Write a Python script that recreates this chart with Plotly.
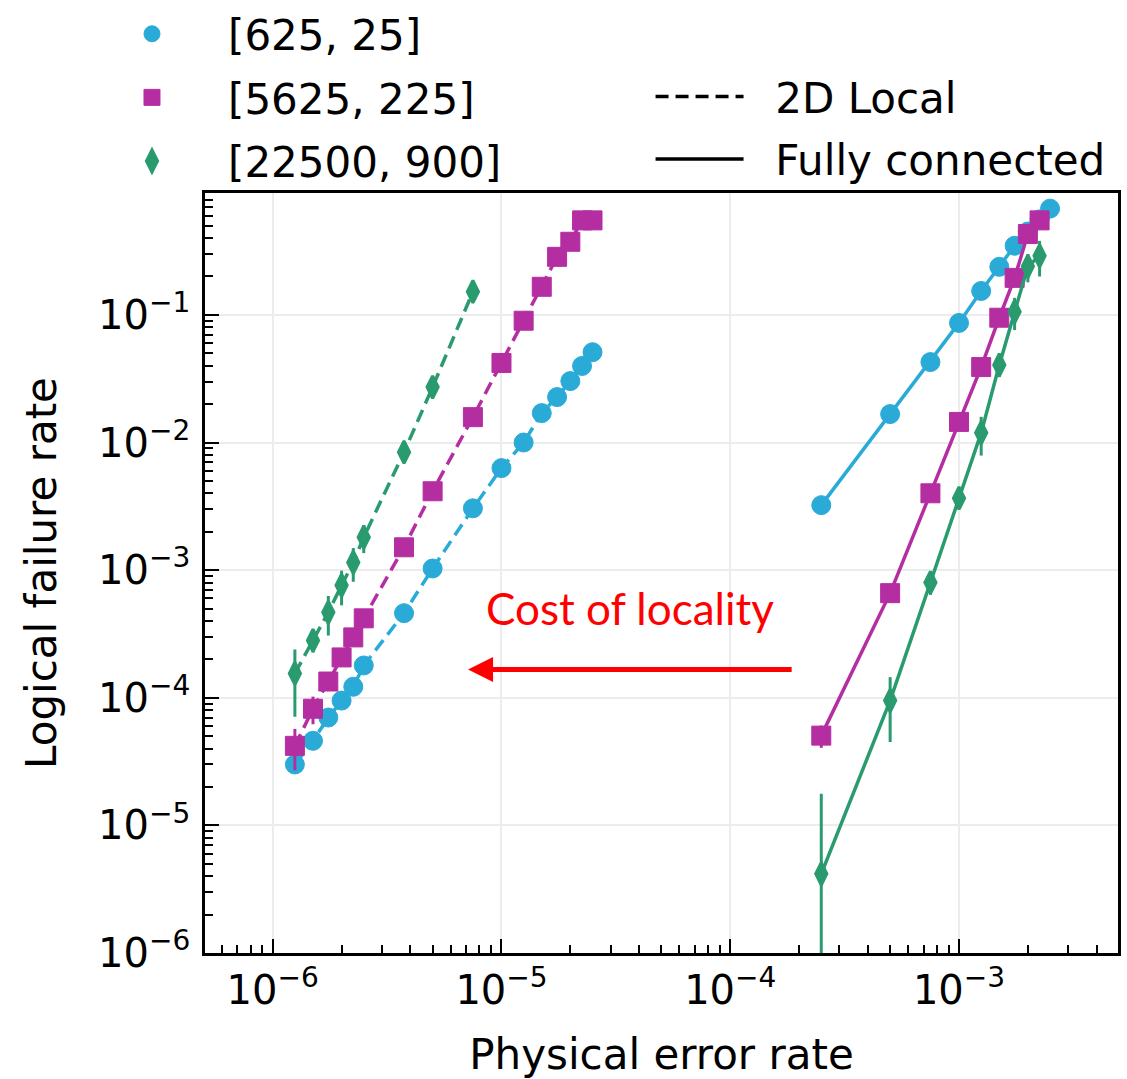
import plotly.graph_objects as go

# ---------------- data ----------------
x_local = [1.25e-6, 1.5e-6, 1.75e-6, 2e-6, 2.25e-6, 2.5e-6, 3.75e-6, 5e-6, 7.5e-6,
           1e-5, 1.25e-5, 1.5e-5, 1.75e-5, 2e-5, 2.25e-5, 2.5e-5]
x_local_22500 = [1.25e-6, 1.5e-6, 1.75e-6, 2e-6, 2.25e-6, 2.5e-6, 3.75e-6, 5e-6, 7.5e-6]

y_local_625 = [3.0e-5, 4.6e-5, 7.0e-5, 9.5e-5, 1.22e-4, 1.79e-4, 4.6e-4, 1.03e-3, 3.05e-3,
               6.3e-3, 1.0e-2, 1.7e-2, 2.27e-2, 3.03e-2, 3.98e-2, 5.1e-2]
err_local_625 = [2e-6, 3e-6, 4e-6, 5e-6, 6e-6, 8e-6, 2e-5, 4e-5, 1e-4,
                 2e-4, 3e-4, 4e-4, 5e-4, 6e-4, 7e-4, 8e-4]

y_local_5625 = [4.2e-5, 8.2e-5, 1.34e-4, 2.07e-4, 2.97e-4, 4.19e-4, 1.51e-3, 4.15e-3, 1.58e-2,
                4.2e-2, 9.0e-2, 0.166, 0.285, 0.374, 0.55, 0.55]
err_local_5625 = [1.5e-5, 2.0e-5, 2.0e-5, 2.5e-5, 3e-5, 3e-5, 8e-5, 1.5e-4, 5e-4,
                  1e-3, 2e-3, 3e-3, 4e-3, 5e-3, 6e-3, 6e-3]

y_local_22500 = [1.55e-4, 2.81e-4, 4.67e-4, 7.6e-4, 1.15e-3, 1.81e-3, 8.4e-3, 2.72e-2, 0.152]
err_local_22500 = [8.4e-5, 5.5e-5, 1.6e-4, 2.3e-4, 3.4e-4, 4.5e-4, 6e-4, 1.2e-3, 8e-3]

x_fc_625 = [2.5e-4, 5e-4, 7.5e-4, 1e-3, 1.25e-3, 1.5e-3, 1.75e-3, 2e-3, 2.25e-3, 2.5e-3]
y_fc_625 = [3.23e-3, 1.67e-2, 4.27e-2, 8.65e-2, 0.154, 0.238, 0.348, 0.45, 0.56, 0.68]
err_fc_625 = [2e-4, 8e-4, 1.5e-3, 2.5e-3, 4e-3, 5e-3, 6e-3, 7e-3, 8e-3, 9e-3]

x_fc = [2.5e-4, 5e-4, 7.5e-4, 1e-3, 1.25e-3, 1.5e-3, 1.75e-3, 2e-3, 2.25e-3]
y_fc_5625 = [5.05e-5, 6.6e-4, 4.0e-3, 1.45e-2, 3.9e-2, 9.5e-2, 0.195, 0.43, 0.55]
err_fc_5625 = [1e-5, 8e-5, 4e-4, 1.2e-3, 3e-3, 6e-3, 1e-2, 1.5e-2, 2e-2]

y_fc_22500 = [4.17e-6, 9.5e-5, 8.0e-4, 3.66e-3, 1.19e-2, 4.05e-2, 0.106, 0.24, 0.29]
err_fc_22500 = [1.35e-5, 5e-5, 1.6e-4, 6e-4, 4e-3, 8e-3, 3e-2, 6e-2, 9e-2]

series_names = ["[625, 25]", "[5625, 225]", "[22500, 900]"]
style_names = ["2D Local", "Fully connected"]

x_tick_vals = [1e-6, 1e-5, 1e-4, 1e-3]
x_tick_text = ["10<sup>−6</sup>", "10<sup>−5</sup>", "10<sup>−4</sup>", "10<sup>−3</sup>"]
y_tick_vals = [1e-6, 1e-5, 1e-4, 1e-3, 1e-2, 1e-1]
y_tick_text = ["10<sup>−6</sup>", "10<sup>−5</sup>", "10<sup>−4</sup>",
               "10<sup>−3</sup>", "10<sup>−2</sup>", "10<sup>−1</sup>"]

# ---------------- styles ----------------
CYAN = "#2aabd7"
MAGENTA = "#b42ea2"
GREEN = "#2a9a6f"
colors = [CYAN, MAGENTA, GREEN]
symbols = ["circle", "square", "diamond-tall"]
msizes = [19, 19, 16]
mlines = [1, 1, 3]
LW = 3.5
DASH = "13px,7px"
FONT = "DejaVu Sans"

fig = go.Figure()

groups = [
    (x_local, y_local_625, err_local_625, 0, DASH),
    (x_local, y_local_5625, err_local_5625, 1, DASH),
    (x_local_22500, y_local_22500, err_local_22500, 2, DASH),
    (x_fc_625, y_fc_625, err_fc_625, 0, "solid"),
    (x_fc, y_fc_5625, err_fc_5625, 1, "solid"),
    (x_fc, y_fc_22500, err_fc_22500, 2, "solid"),
]
for xs, ys, es, k, dash in groups:
    fig.add_trace(go.Scatter(
        x=xs, y=ys, mode="lines+markers",
        line=dict(color=colors[k], width=LW, dash=dash),
        marker=dict(symbol=symbols[k], size=msizes[k], color=colors[k],
                    line=dict(width=mlines[k], color=colors[k])),
        error_y=dict(type="data", array=es, visible=True, color=colors[k],
                     thickness=3, width=0),
        showlegend=False, hoverinfo="x+y",
    ))

# legend 1: marker keys
for k, name in enumerate(series_names):
    fig.add_trace(go.Scatter(
        x=[None], y=[None], mode="markers", name=name,
        marker=dict(symbol=symbols[k], size=msizes[k], color=colors[k],
                    line=dict(width=mlines[k], color=colors[k])),
        legend="legend", legendgroup=name,
    ))
# legend 2: line-style keys (leading spaces give the gap between key and text)
for name, dash in zip(style_names, [DASH, "solid"]):
    fig.add_trace(go.Scatter(
        x=[None], y=[None], mode="lines", name="\u00a0\u00a0" + name,
        line=dict(color="black", width=LW, dash=dash),
        legend="legend2", legendgroup=name,
    ))

def minor_vals(lo, hi):
    out = []
    for e in range(lo, hi + 1):
        for m in range(2, 10):
            out.append(m * 10.0 ** e)
    return out

axis_common = dict(
    type="log", showline=True, linecolor="black", linewidth=2.5, mirror=True,
    ticks="inside", ticklen=14, tickwidth=2, tickcolor="black",
    showgrid=True, gridcolor="#ececec", gridwidth=1.5, zeroline=False,
    tickfont=dict(family=FONT, size=40, color="black"),
)

fig.update_xaxes(
    **axis_common,
    range=[-6.296, -2.305],
    tickmode="array", tickvals=x_tick_vals, ticktext=x_tick_text,
    minor=dict(tickmode="array", tickvals=minor_vals(-7, -3), ticks="inside",
               ticklen=8, tickwidth=2, tickcolor="black", showgrid=False),
    ticklabelstandoff=0,
    title=dict(text="Physical error rate", font=dict(family=FONT, size=42, color="black"),
               standoff=28),
)
fig.update_yaxes(
    **axis_common,
    range=[-6.0, -0.045],
    tickmode="array", tickvals=y_tick_vals, ticktext=y_tick_text,
    minor=dict(tickmode="array", tickvals=minor_vals(-6, -1), ticks="inside",
               ticklen=8, tickwidth=2, tickcolor="black", showgrid=False),
    ticklabelstandoff=4,
    title=dict(text="Logical failure rate", font=dict(family=FONT, size=42, color="black"),
               standoff=29),
)

legend_font = dict(family=FONT, size=42, color="black")
fig.update_layout(
    width=1127, height=1079,
    margin=dict(l=205, r=9, t=193, b=126, autoexpand=False),
    paper_bgcolor="white", plot_bgcolor="white",
    showlegend=True,
    legend=dict(x=-0.1413, y=1.254, xanchor="left", yanchor="top",
                font=legend_font, bgcolor="rgba(0,0,0,0)", itemwidth=142,
                tracegroupgap=6, traceorder="grouped"),
    legend2=dict(x=0.488, y=1.1716, xanchor="left", yanchor="top",
                 font=legend_font, bgcolor="rgba(0,0,0,0)", itemwidth=88,
                 tracegroupgap=5, traceorder="grouped"),
    annotations=[
        dict(text="Cost of locality", xref="paper", yref="paper",
             x=0.4655, y=0.454, showarrow=False,
             font=dict(family="Lato", size=44, color="#ff0000")),
        dict(text="", xref="x", yref="y", axref="x", ayref="y",
             x=-5.146, y=-3.779, ax=-3.725, ay=-3.779,
             showarrow=True, arrowhead=2, arrowsize=1, arrowwidth=5,
             arrowcolor="#ff0000"),
    ],
)

fig.write_html("out.html", config={"displayModeBar": False},
               post_script="document.body.style.margin='0';")
